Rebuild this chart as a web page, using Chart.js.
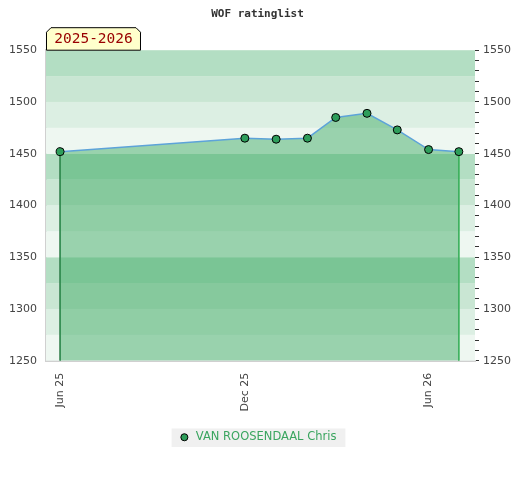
<!DOCTYPE html>
<html>
<head>
<meta charset="utf-8">
<script src="https://cdn.jsdelivr.net/npm/chart.js@4/dist/chart.umd.min.js"></script>
<style>
  html, body { margin: 0; padding: 0; background: #fff; }
  #wrap { width: 520px; height: 480px; position: relative; }
</style>
</head>
<body>
<div id="wrap"><canvas id="myChart"></canvas></div>
<script>
// ratings on the 1st of each month
const dates = ['2025-06-01', '2025-12-01', '2026-01-01', '2026-02-01', '2026-03-01',
               '2026-04-01', '2026-05-01', '2026-06-01', '2026-07-01']
const ratings = [1452, 1465, 1464, 1465, 1485, 1489, 1473, 1454, 1452]
const tickDates = ['2025-06-01', '2025-12-01', '2026-06-01']
const tickLabels = ['Jun 25', 'Dec 25', 'Jun 26']
const playerName = 'VAN ROOSENDAAL Chris'
const seasonLabel = '2025-2026'

const day0 = Date.UTC(2025, 5, 1)
const toDay = s => {
    const p = s.split('-')
    return Math.round((Date.UTC(+p[0], +p[1] - 1, +p[2]) - day0) / 86400000)
}
const points = dates.map((d, i) => ({x: toDay(d), y: ratings[i]}))
const tickDays = tickDates.map(toDay)
const first = points[0], last = points[points.length - 1]

const bandColors = ['#eef7f1', '#dcefe3', '#c9e6d3', '#b3dec3']

const bands = {
    id: 'bands',
    beforeDatasetsDraw(chart) {
        const {ctx, chartArea: a, scales: {y}} = chart
        ctx.save()
        for (let v = 1250, i = 0; v < 1550; v += 25, i++) {
            const top = y.getPixelForValue(v + 25), bot = y.getPixelForValue(v)
            ctx.fillStyle = bandColors[i % 4]
            ctx.fillRect(a.left, top, a.right - a.left, bot - top)
        }
        ctx.restore()
    }
}

const extras = {
    id: 'extras',
    beforeDraw(chart) {
        // grey box behind the legend
        const lg = chart.legend
        const ctx = chart.ctx
        if (lg && lg.legendHitBoxes && lg.legendHitBoxes.length) {
            const hb = lg.legendHitBoxes[0]
            ctx.save()
            ctx.fillStyle = '#f0f0f0'
            ctx.fillRect(hb.left - 7, hb.top - 3, hb.width + 16, hb.height + 7)
            ctx.restore()
        }
    },
    afterDraw(chart) {
        const {ctx, chartArea: a} = chart
        const x = a.left, w = 95, h = 23, c = 5, yb = a.top, yt = a.top - h
        ctx.save()
        ctx.beginPath()
        ctx.moveTo(x + 0.5, yb)
        ctx.lineTo(x + 0.5, yt + c)
        ctx.lineTo(x + c, yt + 0.5)
        ctx.lineTo(x + w - c, yt + 0.5)
        ctx.lineTo(x + w - 0.5, yt + c)
        ctx.lineTo(x + w - 0.5, yb)
        ctx.closePath()
        ctx.fillStyle = '#ffffcc'
        ctx.fill()
        ctx.strokeStyle = '#000'
        ctx.lineWidth = 1
        ctx.stroke()
        ctx.fillStyle = '#990000'
        ctx.font = '14.5px "DejaVu Sans Mono"'
        ctx.textAlign = 'center'
        ctx.textBaseline = 'middle'
        ctx.fillText(seasonLabel, x + w / 2, yt + h / 2 + 1)
        ctx.restore()
    }
}

new Chart(document.getElementById('myChart'), {
    type: 'line',
    data: {
        datasets: [{
            label: playerName,
            data: points,
            borderColor: '#5da3d9',
            borderWidth: 1.5,
            backgroundColor: 'rgba(60,170,98,0.48)',
            fill: 'start',
            tension: 0,
            pointRadius: 4,
            pointBackgroundColor: '#2e9e5b',
            pointBorderColor: '#000',
            pointBorderWidth: 1
        }, {
            label: 'left',
            data: [{x: first.x, y: first.y}, {x: first.x, y: 1250}],
            borderColor: '#2e7d4a',
            borderWidth: 1,
            pointRadius: 0,
            fill: false
        }, {
            label: 'right',
            data: [{x: last.x, y: last.y}, {x: last.x, y: 1250}],
            borderColor: '#3cb35a',
            borderWidth: 1,
            pointRadius: 0,
            fill: false
        }]
    },
    options: {
        responsive: true,
        maintainAspectRatio: false,
        animation: false,
        layout: {padding: {left: 0, right: 5, top: 2, bottom: 27}},
        plugins: {
            title: {
                display: true,
                text: 'WOF ratinglist',
                color: '#333',
                font: {family: 'DejaVu Sans Mono', size: 11, weight: 'bold'},
                padding: {top: 6, bottom: 29}
            },
            legend: {
                position: 'bottom',
                labels: {
                    filter: item => item.datasetIndex === 0,
                    usePointStyle: true,
                    pointStyle: 'circle',
                    boxWidth: 12,
                    boxHeight: 5,
                    color: '#3aa55f',
                    font: {family: 'DejaVu Sans', size: 11.5},
                    padding: 16
                }
            },
            tooltip: {enabled: false}
        },
        scales: {
            x: {
                type: 'linear',
                min: -14,
                max: 411,
                afterBuildTicks: axis => { axis.ticks = tickDays.map(v => ({value: v})) },
                ticks: {
                    minRotation: 90,
                    maxRotation: 90,
                    color: '#444',
                    font: {family: 'DejaVu Sans', size: 11},
                    padding: 4,
                    callback: v => tickLabels[tickDays.indexOf(v)]
                },
                grid: {display: false},
                border: {display: true, color: '#d0d0d0', width: 2}
            },
            y: {
                position: 'left',
                min: 1250,
                max: 1550,
                ticks: {
                    stepSize: 50,
                    color: '#444',
                    font: {family: 'DejaVu Sans', size: 11},
                    padding: 9,
                    callback: v => String(v)
                },
                grid: {display: false, drawTicks: false},
                border: {display: true, color: '#d0d0d0', width: 2}
            },
            y2: {
                position: 'right',
                min: 1250,
                max: 1550,
                afterBuildTicks: axis => {
                    const t = []
                    for (let v = 1250; v <= 1550; v += 10) t.push({value: v})
                    axis.ticks = t
                },
                ticks: {
                    color: '#444',
                    font: {family: 'DejaVu Sans', size: 11},
                    padding: 4,
                    autoSkip: false,
                    callback: v => (v % 50 === 0 ? String(v) : '')
                },
                grid: {drawOnChartArea: false, drawTicks: true, tickLength: 4, color: '#333'},
                border: {display: false}
            }
        }
    },
    plugins: [bands, extras]
})
</script>
</body>
</html>
